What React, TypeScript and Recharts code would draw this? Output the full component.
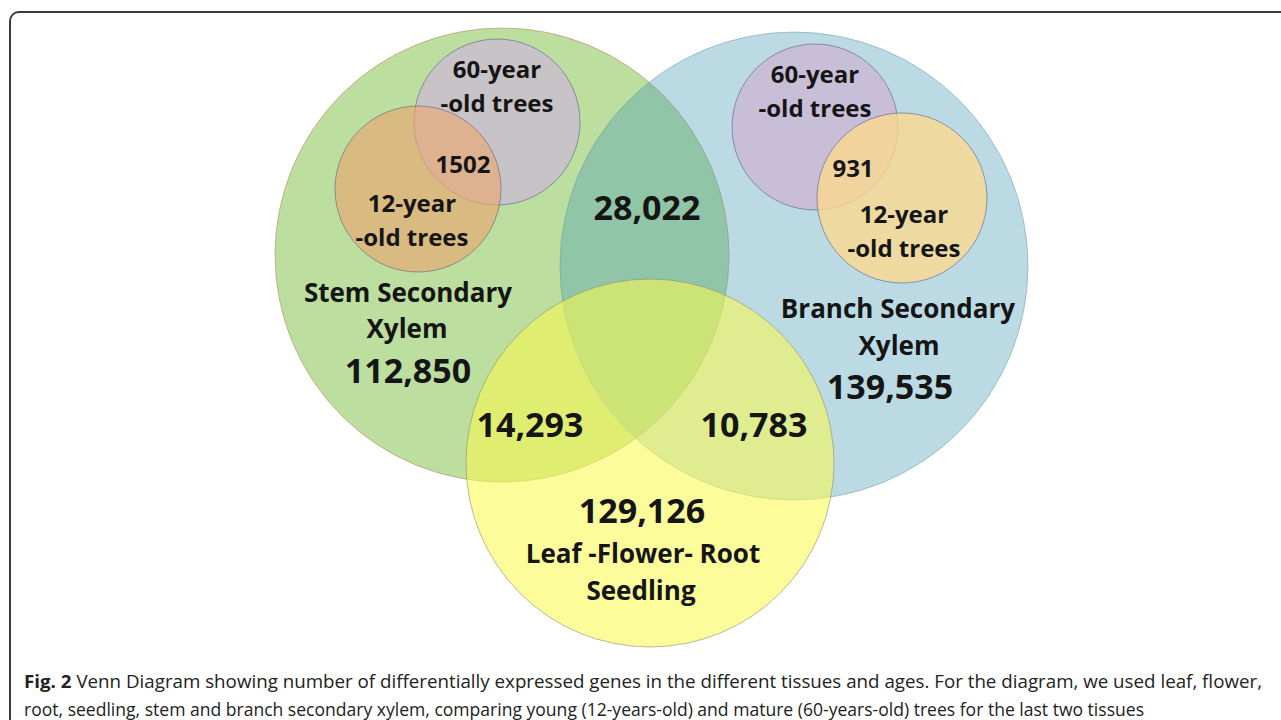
import { Scatter, ScatterChart, XAxis, YAxis } from "recharts";

// diagram coordinate space (units of the original figure)
const X_MAX = 1281;
const Y_MAX = 660;
const CHART_W = 1281;
const CHART_H = 660;

// tissue sets
const TISSUES = ["Stem Secondary Xylem", "Branch Secondary Xylem", "Leaf-Flower-Root Seedling"];
const TISSUE_CX = [502, 794, 650];
const TISSUE_CY = [255, 266, 463];
const TISSUE_R = [227, 234, 184];

// age sub-sets inside stem / branch xylem
const AGES = ["stem 60-year", "stem 12-year", "branch 60-year", "branch 12-year"];
const AGE_CX = [497, 418, 815, 902];
const AGE_CY = [122, 189, 127, 198];
const AGE_R = [83, 83, 83, 85];

// region labels
const LABELS = [
  "60-year", "-old trees", "1502", "12-year", "-old trees",
  "28,022", "Stem Secondary", "Xylem", "112,850",
  "60-year", "-old trees", "931", "12-year", "-old trees",
  "Branch Secondary", "Xylem", "139,535",
  "14,293", "10,783", "129,126", "Leaf -Flower- Root", "Seedling",
];
const LABEL_X = [
  497, 497, 463, 412, 412,
  647, 408, 407, 408,
  815, 815, 853, 904, 904,
  898, 899, 890,
  530, 754, 642, 643, 641,
];
const LABEL_Y = [
  68, 102, 163, 202, 236,
  207, 292, 328, 370,
  73, 107, 167, 213, 247,
  308, 345, 386,
  424, 424, 510, 553, 590,
];
const LABEL_KIND = [
  "age", "age", "age", "age", "age",
  "count", "name", "name", "count",
  "age", "age", "age", "age", "age",
  "name", "name", "count",
  "count", "count", "count", "name", "name",
];

const CAPTION_1 =
  " Venn Diagram showing number of differentially expressed genes in the different tissues and ages. For the diagram, we used leaf, flower,";
const CAPTION_2 =
  "root, seedling, stem and branch secondary xylem, comparing young (12-years-old) and mature (60-years-old) trees for the last two tissues";

const TISSUE_STYLE = [
  { fill: "rgb(188,222,158)", opacity: 1, stroke: "rgba(190,150,120,0.7)" },
  { fill: "rgb(76,158,184)", opacity: 0.38, stroke: "rgba(110,150,160,0.5)" },
  { fill: "rgb(250,250,80)", opacity: 0.57, stroke: "rgba(140,140,120,0.6)" },
];
const AGE_STYLE = [
  { fill: "rgb(202,190,205)", opacity: 0.85 },
  { fill: "rgb(235,166,112)", opacity: 0.62 },
  { fill: "rgb(202,185,213)", opacity: 0.85 },
  { fill: "rgb(255,218,137)", opacity: 0.75 },
];
const FONT_SIZE: Record<string, number> = { age: 24, count: 34, name: 26 };
const FONT = "'Open Sans', 'Noto Sans', sans-serif";

const tissueData = TISSUES.map((name, i) => ({
  name, i, x: TISSUE_CX[i], y: TISSUE_CY[i], r: TISSUE_R[i],
}));
const ageData = AGES.map((name, i) => ({
  name, i, x: AGE_CX[i], y: AGE_CY[i], r: AGE_R[i],
}));
const labelData = LABELS.map((text, i) => ({
  text, kind: LABEL_KIND[i], x: LABEL_X[i], y: LABEL_Y[i],
}));

const PX = CHART_W / X_MAX;

function TissueCircle(props: any) {
  const { cx, cy, payload } = props;
  const s = TISSUE_STYLE[payload.i];
  return (
    <circle
      cx={cx}
      cy={cy}
      r={payload.r * PX}
      fill={s.fill}
      fillOpacity={s.opacity}
      stroke={s.stroke}
      strokeWidth={1}
    />
  );
}

function AgeCircle(props: any) {
  const { cx, cy, payload } = props;
  const s = AGE_STYLE[payload.i];
  return (
    <circle
      cx={cx}
      cy={cy}
      r={payload.r * PX}
      fill={s.fill}
      fillOpacity={s.opacity}
      stroke="rgba(90,95,140,0.6)"
      strokeWidth={1}
    />
  );
}

function LabelText(props: any) {
  const { cx, cy, payload } = props;
  return (
    <text
      x={cx}
      y={cy}
      textAnchor="middle"
      dominantBaseline="central"
      fontFamily={FONT}
      fontWeight={700}
      fontSize={FONT_SIZE[payload.kind]}
      fill="#151515"
    >
      {payload.text}
    </text>
  );
}

export default function App() {
  return (
    <div
      style={{
        position: "absolute",
        left: 0,
        top: 0,
        width: 1281,
        height: 720,
        overflow: "hidden",
        background: "#fff",
      }}
    >
      <div
        style={{
          position: "absolute",
          left: 9,
          top: 11,
          width: 1300,
          height: 740,
          border: "2px solid #3c3c3c",
          borderRadius: 10,
          boxSizing: "border-box",
        }}
      />
      <div style={{ position: "absolute", left: 0, top: 0 }}>
        <ScatterChart
          width={CHART_W}
          height={CHART_H}
          margin={{ top: 0, right: 0, bottom: 0, left: 0 }}
        >
          <XAxis type="number" dataKey="x" domain={[0, X_MAX]} hide />
          <YAxis type="number" dataKey="y" domain={[0, Y_MAX]} reversed hide />
          <Scatter data={tissueData} shape={TissueCircle} isAnimationActive={false} />
          <Scatter data={ageData} shape={AgeCircle} isAnimationActive={false} />
          <Scatter data={labelData} shape={LabelText} isAnimationActive={false} />
        </ScatterChart>
      </div>
      <svg
        width={1281}
        height={60}
        style={{ position: "absolute", left: 0, top: 660 }}
      >
        <text
          x={24}
          y={28}
          fontFamily={FONT}
          fontSize={18}
          fill="#222"
          textLength={1238}
          lengthAdjust="spacingAndGlyphs"
        >
          <tspan fontWeight={700}>Fig. 2</tspan>
          {CAPTION_1}
        </text>
        <text
          x={24}
          y={56}
          fontFamily={FONT}
          fontSize={18}
          fill="#222"
          textLength={1120}
          lengthAdjust="spacingAndGlyphs"
        >
          {CAPTION_2}
        </text>
      </svg>
    </div>
  );
}
